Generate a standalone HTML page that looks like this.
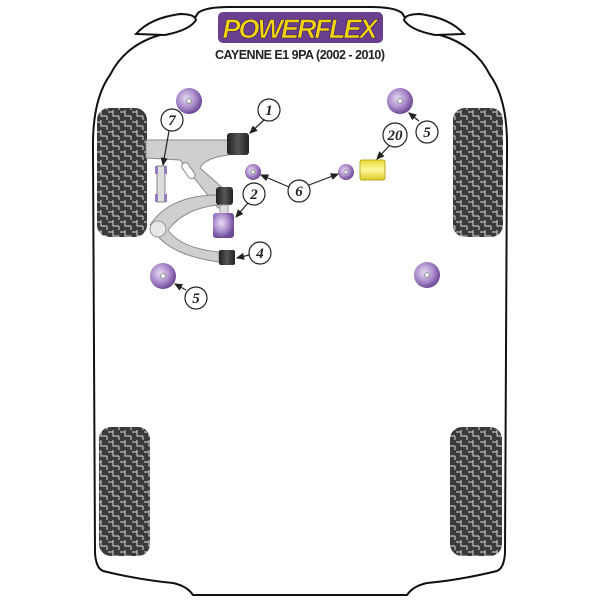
<!DOCTYPE html>
<html><head><style>
html,body{margin:0;padding:0;background:#fff;width:600px;height:600px;overflow:hidden}
svg{display:block}
.lbl{font-family:"Liberation Serif",serif;font-style:italic;font-weight:bold;font-size:15px;fill:#222;text-anchor:middle}
</style></head><body>
<svg width="600" height="600" viewBox="0 0 600 600" xmlns="http://www.w3.org/2000/svg">
<defs>
<pattern id="tread" width="12" height="10" patternUnits="userSpaceOnUse">
<rect width="12" height="10" fill="#3b3b3b"/>
<path d="M0 2 H5 V6 H11 M5 0 V2 M11 6 V10" stroke="#bdbdbd" stroke-width="1.2" fill="none"/>
</pattern>
<radialGradient id="pur" cx="0.4" cy="0.4" r="0.6">
<stop offset="0" stop-color="#e6dcf2"/><stop offset="0.6" stop-color="#a98acb"/><stop offset="1" stop-color="#6e4b97"/>
</radialGradient>
<linearGradient id="blk" x1="0" x2="1"><stop offset="0" stop-color="#222"/><stop offset="0.5" stop-color="#555"/><stop offset="1" stop-color="#222"/></linearGradient>
<linearGradient id="yel" x1="0" y1="0" x2="0" y2="1"><stop offset="0" stop-color="#e8dc30"/><stop offset="0.5" stop-color="#fff8a0"/><stop offset="1" stop-color="#d8c820"/></linearGradient>
<marker id="ar" markerWidth="8" markerHeight="8" refX="6" refY="4" orient="auto"><path d="M0 1 L7 4 L0 7 Z" fill="#222"/></marker>
</defs>
<path d="M95 553 L93 150 Q92 100 110 75 Q125 45 160 35 Q190 28 198 13 Q205 7 230 7 L370 7 Q395 7 402 13 Q410 28 440 35 Q475 45 490 75 Q508 100 507 150 L505 553 Q504 568 497 571 Q460 580 427 583 Q413 586 407 595 L193 595 Q187 586 173 583 Q140 580 103 571 Q96 568 95 553 Z" fill="#fff" stroke="#111" stroke-width="2"/>
<path d="M136 34 Q150 18 180 14 Q195 14 196 20 Q190 30 165 35 Z" fill="#fff" stroke="#111" stroke-width="2"/>
<path d="M464 34 Q450 18 420 14 Q405 14 404 20 Q410 30 435 35 Z" fill="#fff" stroke="#111" stroke-width="2"/>
<rect x="97" y="108" width="50" height="129" rx="12" fill="url(#tread)"/>
<rect x="453" y="108" width="50" height="129" rx="12" fill="url(#tread)"/>
<rect x="99" y="427" width="51" height="129" rx="12" fill="url(#tread)"/>
<rect x="450" y="427" width="52" height="129" rx="12" fill="url(#tread)"/>
<rect x="218" y="12" width="165" height="31" rx="5" fill="#6a3f8e"/>
<text x="300" y="38" font-family="Liberation Sans,sans-serif" font-weight="bold" font-style="italic" font-size="27" fill="#f1d40f" text-anchor="middle" textLength="155" stroke="#3a2050" stroke-width="0.6">POWERFLEX</text>
<text x="300" y="59" font-family="Liberation Sans,sans-serif" font-weight="bold" font-size="12.5" fill="#222" text-anchor="middle" textLength="170">CAYENNE E1 9PA (2002 - 2010)</text>
<path d="M146 140 L228 140 L228 155 Q205 158 200 168 L225 190 L228 205 L218 208 L180 160 L146 158 Z" fill="#cfcfd2" stroke="#8a8a8a" stroke-width="1"/>
<rect x="185" y="162" width="7" height="18" rx="3.5" transform="rotate(-35 188 171)" fill="#fff" stroke="#888"/>
<path d="M218 195 Q170 195 150 225 Q165 255 219 262 L219 252 Q180 248 168 230 Q185 208 218 205 Z" fill="#cfcfd2" stroke="#8a8a8a" stroke-width="1"/>
<circle cx="158" cy="229" r="8" fill="#e8e8e8" stroke="#999"/>
<rect x="227" y="133" width="22" height="22" rx="3" fill="url(#blk)"/>
<rect x="216" y="187" width="17" height="18" rx="3" fill="url(#blk)"/>
<rect x="219" y="250" width="16" height="15" rx="2" fill="url(#blk)"/>
<rect x="220" y="205" width="8" height="9" fill="#ddd" stroke="#999"/>
<rect x="213" y="213" width="21" height="25" rx="3" fill="url(#pur)"/>
<rect x="157" y="166" width="8" height="36" fill="#ddd" stroke="#888"/>
<rect x="155" y="166" width="3" height="8" fill="#9c7ac0"/><rect x="164" y="166" width="3" height="8" fill="#9c7ac0"/>
<rect x="155" y="194" width="3" height="8" fill="#9c7ac0"/><rect x="164" y="194" width="3" height="8" fill="#9c7ac0"/>
<rect x="360" y="160" width="25" height="20" rx="2" fill="url(#yel)" stroke="#bba820"/>
<g fill="url(#pur)">
<circle cx="189" cy="101" r="13"/><circle cx="400" cy="101" r="13"/>
<circle cx="163" cy="276" r="13"/><circle cx="427" cy="275" r="13"/>
<circle cx="253" cy="172" r="8"/><circle cx="346" cy="172" r="8"/>
</g>
<g fill="#eee" stroke="#888" stroke-width="0.8">
<circle cx="189" cy="101" r="2.5"/><circle cx="400" cy="101" r="2.5"/><circle cx="163" cy="276" r="2.5"/><circle cx="427" cy="275" r="2.5"/><circle cx="253" cy="172" r="2"/><circle cx="346" cy="172" r="2"/>
</g>
<g stroke="#222" stroke-width="1.2" fill="none" marker-end="url(#ar)">
<line x1="264" y1="120" x2="250" y2="133"/>
<line x1="169" y1="131" x2="163" y2="165"/>
<line x1="248" y1="203" x2="236" y2="217"/>
<line x1="249" y1="255" x2="237" y2="258"/>
<line x1="186" y1="290" x2="175" y2="284"/>
<line x1="289" y1="187" x2="261" y2="175"/>
<line x1="309" y1="185" x2="338" y2="174"/>
<line x1="419" y1="121" x2="409" y2="113"/>
<line x1="389" y1="146" x2="377" y2="159"/>
</g>
<g fill="#fff" stroke="#222" stroke-width="1.2">
<circle cx="269" cy="110" r="11"/><circle cx="172" cy="120" r="11"/><circle cx="254" cy="194" r="11"/>
<circle cx="260" cy="253" r="11"/><circle cx="196" cy="298" r="11"/><circle cx="299" cy="191" r="11"/>
<circle cx="427" cy="132" r="11"/><circle cx="395" cy="135" r="12"/>
</g>
<text class="lbl" x="269" y="115">1</text><text class="lbl" x="172" y="125">7</text>
<text class="lbl" x="254" y="199">2</text><text class="lbl" x="260" y="258">4</text>
<text class="lbl" x="196" y="303">5</text><text class="lbl" x="299" y="196">6</text>
<text class="lbl" x="427" y="137">5</text><text class="lbl" x="395" y="140">20</text>
</svg>
</body></html>
